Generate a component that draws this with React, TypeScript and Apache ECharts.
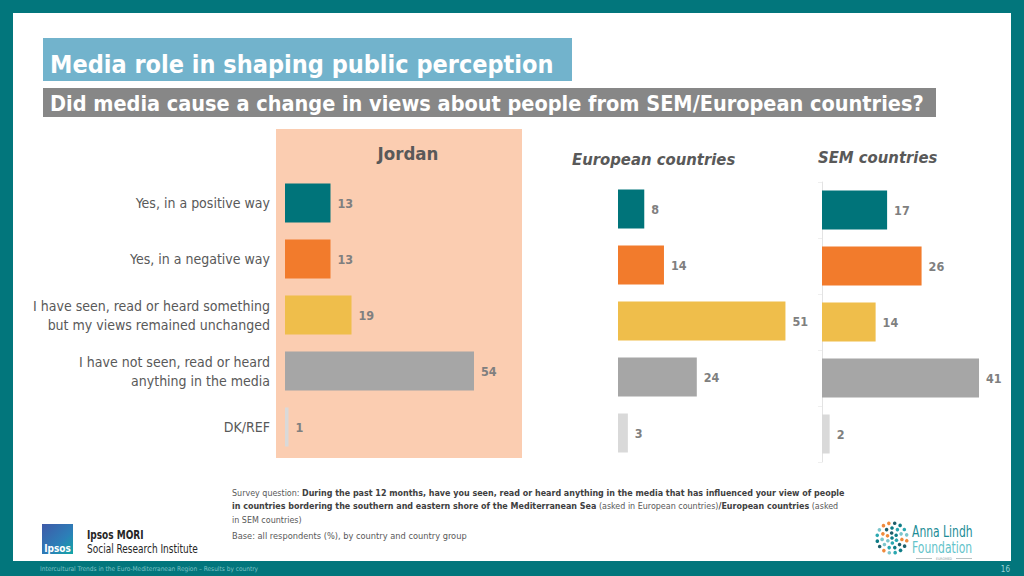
import React, { useEffect, useRef } from "react";
import * as echarts from "echarts";

const categories = [
  "Yes, in a positive way",
  "Yes, in a negative way",
  "I have seen, read or heard something\nbut my views remained unchanged",
  "I have not seen, read or heard\nanything in the media",
  "DK/REF",
];
const barColors = ["#00747A", "#F27B2C", "#EFBE4B", "#A6A6A6", "#D9D9D9"];
const jordanValues = [13, 13, 19, 54, 1];
const europeanValues = [8, 14, 51, 24, 3];
const semValues = [17, 26, 14, 41, 2];
const panelTitles = ["Jordan", "European countries", "SEM countries"];
const titleText = "Media role in shaping public perception";
const subtitleText = "Did media cause a change in views about people from SEM/European countries?";
const footerText = "Intercultural Trends in the Euro-Mediterranean Region \u2013 Results by country";
const pageNumber = "16";

const NARROW = "'DejaVu Sans Condensed', 'Open Sans', sans-serif";
const TEAL = "#02767C";

function barSeries(values: number[], idx: number) {
  return {
    type: "bar",
    xAxisIndex: idx,
    yAxisIndex: idx,
    barWidth: 39,
    data: values.map((v, i) => ({ value: v, itemStyle: { color: barColors[i] } })),
    label: {
      show: true,
      position: "right",
      distance: 7,
      fontFamily: NARROW,
      fontWeight: "bold",
      fontSize: 12.5,
      color: "#7F7F7F",
    },
  };
}

function logoDots() {
  const out: any[] = [];
  const cx = 892;
  const cy = 538;
  const rings = [
    { r: 0, n: 1 },
    { r: 5, n: 6 },
    { r: 10, n: 11 },
    { r: 15, n: 16 },
  ];
  const cols = ["#0E7C86", "#F08A3C", "#2AA7B0", "#1E5F6B", "#7CC6CC"];
  let k = 0;
  rings.forEach((ring) => {
    for (let i = 0; i < ring.n; i++) {
      const a = (i / ring.n) * Math.PI * 2 + ring.r * 0.3;
      out.push({
        type: "circle",
        shape: { cx: cx + ring.r * Math.cos(a), cy: cy + ring.r * Math.sin(a), r: 1.8 },
        style: { fill: cols[(k * 7) % cols.length] },
        silent: true,
      });
      k++;
    }
  });
  return out;
}

export default function App() {
  const ref = useRef<HTMLDivElement>(null);
  useEffect(() => {
    if (!ref.current) return;
    const chart = echarts.init(ref.current, null, { renderer: "svg" });
    const hiddenX = (max: number) => ({
      type: "value",
      min: 0,
      max,
      show: false,
    });
    const option: any = {
      animation: false,
      backgroundColor: TEAL,
      grid: [
        { left: 285, top: 175, width: 210, height: 280 },
        { left: 618, top: 181, width: 197, height: 280 },
        { left: 822, top: 182, width: 191.5, height: 280 },
      ],
      xAxis: [
        { ...hiddenX(60), gridIndex: 0 },
        { ...hiddenX(60), gridIndex: 1 },
        { ...hiddenX(50), gridIndex: 2 },
      ],
      yAxis: [
        {
          type: "category",
          gridIndex: 0,
          inverse: true,
          data: categories,
          axisLine: { show: false },
          axisTick: { show: false },
          axisLabel: {
            margin: 15,
            fontFamily: NARROW,
            fontSize: 14,
            lineHeight: 19,
            color: "#595959",
            align: "right",
          },
        },
        {
          type: "category",
          gridIndex: 1,
          inverse: true,
          data: categories,
          axisLine: { show: false },
          axisTick: { show: false },
          axisLabel: { show: false },
        },
        {
          type: "category",
          gridIndex: 2,
          inverse: true,
          data: categories,
          axisLine: { show: true, lineStyle: { color: "#E3E3E3", width: 1 } },
          axisTick: { show: true, length: 4, lineStyle: { color: "#EFEFEF" } },
          axisLabel: { show: false },
        },
      ],
      series: [barSeries(jordanValues, 0), barSeries(europeanValues, 1), barSeries(semValues, 2)],
      graphic: [
        { type: "rect", z: -10, shape: { x: 13, y: 13, width: 998, height: 548 }, style: { fill: "#FFFFFF" }, silent: true },
        { type: "rect", z: -5, shape: { x: 276, y: 129, width: 246, height: 329 }, style: { fill: "#FBCDB1" }, silent: true },
        { type: "rect", shape: { x: 43, y: 38, width: 529, height: 43 }, style: { fill: "#72B3CC" } },
        {
          type: "text",
          x: 50,
          y: 64,
          style: { text: titleText, fill: "#FFFFFF", font: `bold 25px ${NARROW}`, verticalAlign: "middle" },
        },
        { type: "rect", shape: { x: 43, y: 88, width: 893, height: 29 }, style: { fill: "#878787" } },
        {
          type: "text",
          x: 50,
          y: 103,
          style: { text: subtitleText, fill: "#FFFFFF", font: `bold 21.5px ${NARROW}`, verticalAlign: "middle" },
        },
        {
          type: "text",
          x: 408,
          y: 153,
          style: { text: panelTitles[0], fill: "#595959", font: `bold 18.5px ${NARROW}`, align: "center", verticalAlign: "middle" },
        },
        {
          type: "text",
          x: 572,
          y: 159,
          style: { text: panelTitles[1], fill: "#595959", font: `italic bold 16.5px ${NARROW}`, verticalAlign: "middle" },
        },
        {
          type: "text",
          x: 818,
          y: 157,
          style: { text: panelTitles[2], fill: "#595959", font: `italic bold 16.5px ${NARROW}`, verticalAlign: "middle" },
        },
        {
          type: "text",
          x: 232,
          y: 486,
          style: {
            text:
              "{n|Survey question: }{b|During the past 12 months, have you seen, read or heard anything in the media that has influenced your view of people}\n" +
              "{b|in countries bordering the southern and eastern shore of the Mediterranean Sea}{n| (asked in European countries)}{b|/European countries}{n| (asked}\n" +
              "{n|in SEM countries)}",
            rich: {
              n: { font: `8.9px ${NARROW}`, fill: "#595959", lineHeight: 13.5 },
              b: { font: `bold 8.9px ${NARROW}`, fill: "#404040", lineHeight: 13.5 },
            },
          },
        },
        {
          type: "text",
          x: 232,
          y: 531,
          style: { text: "Base: all respondents (%), by country and country group", font: `9.2px ${NARROW}`, fill: "#595959" },
        },
        {
          type: "rect",
          shape: { x: 42, y: 524, width: 31, height: 30 },
          style: {
            fill: new echarts.graphic.LinearGradient(0, 0, 1, 1, [
              { offset: 0, color: "#3F5AA8" },
              { offset: 0.6, color: "#2C7FB8" },
              { offset: 1, color: "#12A7A6" },
            ]),
          },
        },
        {
          type: "text",
          x: 57.5,
          y: 548,
          style: { text: "Ipsos", fill: "#FFFFFF", font: `bold 10px ${NARROW}`, align: "center", verticalAlign: "middle" },
        },
        {
          type: "text",
          x: 87,
          y: 535,
          scaleX: 0.8,
          style: { text: "Ipsos MORI", fill: "#262626", font: `bold 12.5px ${NARROW}`, verticalAlign: "middle" },
        },
        {
          type: "text",
          x: 87,
          y: 549,
          scaleX: 0.8,
          style: { text: "Social Research Institute", fill: "#262626", font: `12.5px ${NARROW}`, verticalAlign: "middle" },
        },
        ...logoDots(),
        {
          type: "text",
          x: 912,
          y: 531,
          scaleX: 0.8,
          style: { text: "Anna Lindh", fill: "#1C8C96", font: `15px ${NARROW}`, verticalAlign: "middle" },
        },
        {
          type: "text",
          x: 912,
          y: 547,
          scaleX: 0.8,
          style: { text: "Foundation", fill: "#63C3CA", font: `15px ${NARROW}`, verticalAlign: "middle" },
        },
        { type: "line", shape: { x1: 916, y1: 558.5, x2: 932, y2: 558.5 }, style: { stroke: "#8A9A9C", lineWidth: 0.6 } },
        { type: "line", shape: { x1: 956, y1: 558.5, x2: 972, y2: 558.5 }, style: { stroke: "#8A9A9C", lineWidth: 0.6 } },
        {
          type: "text",
          x: 944,
          y: 558.5,
          style: { text: "EUROMED", fill: "#8A9A9C", font: `3.5px ${NARROW}`, align: "center", verticalAlign: "middle" },
        },
        {
          type: "text",
          x: 40,
          y: 569,
          style: { text: footerText, fill: "#7FC3C6", font: `6.5px ${NARROW}`, verticalAlign: "middle" },
        },
        {
          type: "text",
          x: 1010,
          y: 569,
          style: { text: pageNumber, fill: "#9CD3D5", font: `8px ${NARROW}`, align: "right", verticalAlign: "middle" },
        },
      ],
    };
    chart.setOption(option);
    return () => chart.dispose();
  }, []);
  return (
    <div
      ref={ref}
      style={{ position: "fixed", left: 0, top: 0, width: 1024, height: 576 }}
    />
  );
}
